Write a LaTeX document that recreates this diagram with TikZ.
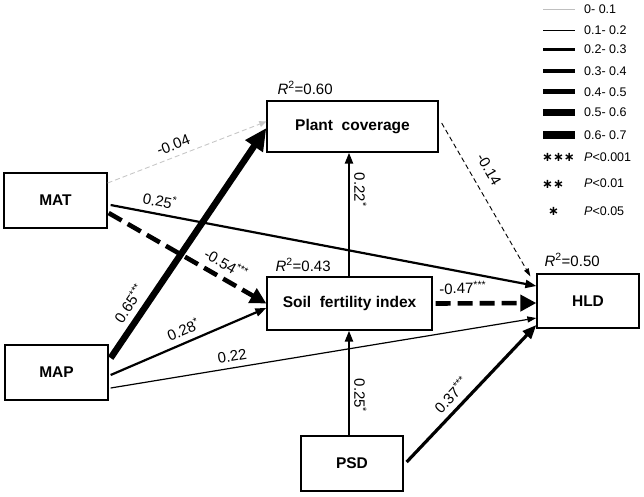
\documentclass[tikz,border=0pt]{standalone}
\usepackage{fontspec}
\setmainfont{Liberation Sans}
\newfontfamily\starfont{DejaVu Sans}
\usetikzlibrary{arrows.meta}

\begin{document}
\begin{tikzpicture}[x=1pt,y=-1pt,
    box/.style={draw,line width=1.3pt,inner sep=0pt,
      font=\fontsize{15.5}{18}\selectfont\bfseries},
    coef/.style={font=\fontsize{15}{17}\selectfont,inner sep=2pt},
    slab/.style={coef,sloped,above=4pt},
    rsq/.style={font=\fontsize{15}{17}\selectfont,anchor=south west,inner sep=0pt},
    leg/.style={font=\fontsize{12.5}{15}\selectfont,anchor=west,inner sep=0pt},
    star/.style={leg,font=\fontsize{13}{13}\starfont\bfseries},
    pgray/.style={draw=black!22,line width=0.9pt,dash pattern=on 5pt off 3pt,
      -{Triangle[length=7pt,width=6pt,fill=black!22]}},
    pthin/.style={line width=1.2pt,-{Triangle[length=9pt,width=6pt]}},
    pdthin/.style={line width=0.9pt,dash pattern=on 5pt off 3pt,
      -{Triangle[length=8pt,width=5pt]}},
    pmid/.style={line width=2.2pt,-{Triangle[length=11pt,width=8pt]}},
    pthick/.style={line width=3.2pt,-{Triangle[length=14pt,width=11pt]}},
    pdash/.style={line width=4.6pt,dash pattern=on 15pt off 7pt,
      -{Triangle[length=16pt,width=16pt]}},
    pbold/.style={line width=6.5pt,-{Triangle[length=22pt,width=20pt]}}]
  \useasboundingbox (0,0) rectangle (644,496);

  % variables
  \node[box,minimum width=103pt,minimum height=55pt] (MAT) at (55.5,200.5) {MAT};
  \node[box,minimum width=103pt,minimum height=55pt] (MAP) at (56.5,372.5) {MAP};
  \node[box,minimum width=171pt,minimum height=51pt] (Plant) at (352.5,126.5) {Plant\ \ coverage};
  \node[box,minimum width=165pt,minimum height=53pt] (Soil) at (349.5,303.5) {Soil\ \ fertility index};
  \node[box,minimum width=102pt,minimum height=54pt] (HLD) at (588,301) {HLD};
  \node[box,minimum width=102pt,minimum height=55pt] (PSD) at (352,463.5) {PSD};

  % explained variance
  \node[rsq] at ([xshift=11pt,yshift=6pt]Plant.north west) {\textit{R}\textsuperscript{2}=0.60};
  \node[rsq] at ([xshift=9pt,yshift=5pt]Soil.north west) {\textit{R}\textsuperscript{2}=0.43};
  \node[rsq] at ([xshift=8pt,yshift=7pt]HLD.north west) {\textit{R}\textsuperscript{2}=0.50};

  % paths
  \draw[pgray] ([yshift=17.5pt]MAT.east) -- node[slab,pos=0.44]{-0.04} ([yshift=5pt]Plant.west);
  \draw[pmid] ([xshift=3pt,yshift=-4.5pt]MAT.east) -- node[slab,pos=0.11]{0.25\textsuperscript{*}} ([yshift=15pt]HLD.west);
  \draw[pdash] ([xshift=1pt,yshift=-12.5pt]MAT.east) -- node[slab,pos=0.7]{-0.54\textsuperscript{***}} (Soil.west);
  \draw[pbold] ([xshift=2pt,yshift=14.5pt]MAP.east) -- node[slab,pos=0.2]{0.65\textsuperscript{***}} ([yshift=-1.5pt]Plant.west);
  \draw[pmid] ([xshift=2pt,yshift=-2.5pt]MAP.east) -- node[slab,pos=0.5]{0.28\textsuperscript{*}} ([yshift=-4.5pt]Soil.west);
  \draw[pthin] ([xshift=2pt,yshift=-15.5pt]MAP.east) -- node[slab,pos=0.29]{0.22} ([yshift=-17pt]HLD.west);
  \draw[pmid] ([xshift=-0.5pt]Soil.north) -- node[coef,pos=0.7,rotate=-90,anchor=south,inner sep=4pt]{0.22\textsuperscript{*}} ([xshift=-0.5pt]Soil.north |- Plant.south);
  \draw[pdthin] ([xshift=3pt,yshift=3.5pt]Plant.east) -- node[slab,pos=0.36,above=6pt]{-0.14} ([shift={(-6pt,-3pt)}]HLD.north west);
  \draw[pdash] ([xshift=3pt]Soil.east) -- node[slab,pos=0.27,above=1pt]{-0.47\textsuperscript{***}} ([yshift=-2pt]HLD.west);
  \draw[pmid] ([xshift=-3pt]PSD.north) -- node[coef,pos=0.38,rotate=-90,anchor=south,inner sep=4pt]{0.25\textsuperscript{*}} ([xshift=-3pt]PSD.north |- Soil.south);
  \draw[pthick] ([xshift=3pt,yshift=1.5pt]PSD.east) -- node[slab,pos=0.42]{0.37\textsuperscript{***}} ([yshift=-24pt]HLD.west);

  % legend
  \draw[black!25,line width=1.3pt] (543,9.3) -- (575,9.3);
  \node[leg] at (584,9.3) {0- 0.1};
  \draw[line width=1pt] (543,30) -- (575,30);
  \node[leg] at (584,30) {0.1- 0.2};
  \draw[line width=2.7pt] (543,49.3) -- (575,49.3);
  \node[leg] at (584,49.3) {0.2- 0.3};
  \draw[line width=4pt] (543,71) -- (575,71);
  \node[leg] at (584,71) {0.3- 0.4};
  \draw[line width=4.8pt] (543,91.7) -- (575,91.7);
  \node[leg] at (584,91.7) {0.4- 0.5};
  \draw[line width=6.7pt] (543,112.3) -- (575,112.3);
  \node[leg] at (584,112.3) {0.5- 0.6};
  \draw[line width=8pt] (543,135) -- (575,135);
  \node[leg] at (584,135) {0.6- 0.7};
  \node[star] at (542,157) {∗∗∗};
  \node[leg] at (584,156.7) {\textit{P}<0.001};
  \node[star] at (542,184) {∗∗};
  \node[leg] at (584,183.5) {\textit{P}<0.01};
  \node[star] at (548,211) {∗};
  \node[leg] at (584,211) {\textit{P}<0.05};
\end{tikzpicture}
\end{document}
